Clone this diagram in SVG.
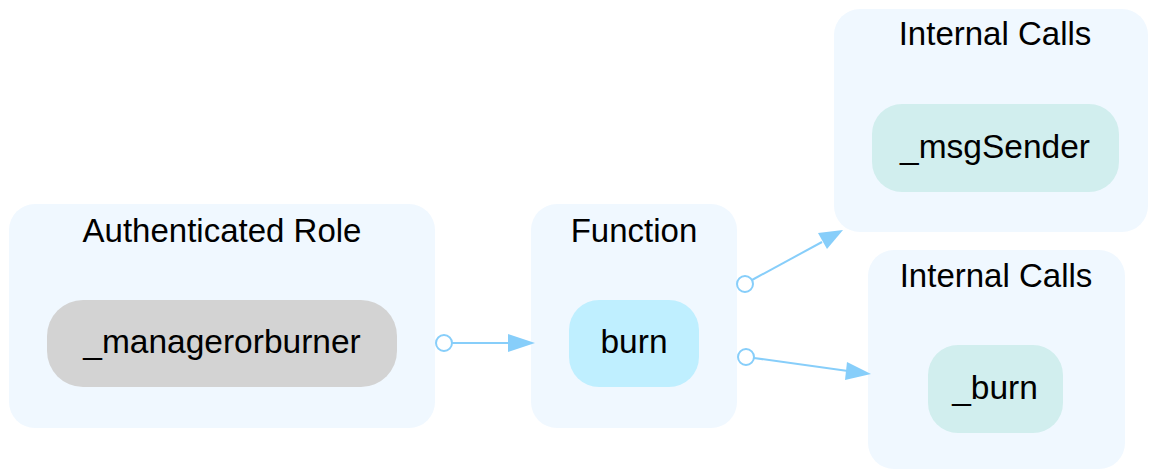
<svg xmlns="http://www.w3.org/2000/svg" width="1149" height="470" viewBox="0 0 1149 470">
  <defs>
    <style>
      .cluster { fill: #f0f8ff; stroke: none; }
      .label { font-family: "Liberation Sans", Arial, sans-serif; font-size: 33px; fill: #000; text-anchor: middle; }
      .ntext { font-family: "Liberation Sans", Arial, sans-serif; font-size: 33.5px; fill: #000; text-anchor: middle; }
      .edge { stroke: #87cefa; stroke-width: 2; fill: none; }
      .tail { stroke: #87cefa; stroke-width: 2; fill: #ffffff; }
      .head { fill: #87cefa; stroke: none; }
    </style>
  </defs>
  <rect width="1149" height="470" fill="#ffffff"/>

  <!-- role cluster -->
  <g id="cluster_role">
    <rect class="cluster" x="9" y="204" width="426" height="224" rx="26"/>
    <text class="label" x="222" y="242">Authenticated Role</text>
  </g>
  <g id="node_managerorburner">
    <rect x="47" y="300" width="350" height="87" rx="36" fill="#d3d3d3"/>
    <text class="ntext" x="222" y="353">_managerorburner</text>
  </g>

  <!-- function cluster -->
  <g id="cluster_function">
    <rect class="cluster" x="531" y="204" width="206" height="224" rx="26"/>
    <text class="label" x="634" y="242">Function</text>
  </g>
  <g id="node_burn">
    <rect x="569" y="300" width="130" height="87" rx="30" fill="#bfefff"/>
    <text class="ntext" x="634" y="353">burn</text>
  </g>

  <!-- internal calls clusters -->
  <g id="cluster_internal_1">
    <rect class="cluster" x="834" y="9" width="314" height="223" rx="26"/>
    <text class="label" x="995" y="45">Internal Calls</text>
  </g>
  <g id="node_msgSender">
    <rect x="872" y="104" width="247" height="88" rx="30" fill="#d1eeee"/>
    <text class="ntext" x="995" y="158">_msgSender</text>
  </g>

  <g id="cluster_internal_2">
    <rect class="cluster" x="868" y="250" width="257" height="219" rx="26"/>
    <text class="label" x="996" y="287">Internal Calls</text>
  </g>
  <g id="node__burn">
    <rect x="928" y="345" width="135" height="88" rx="30" fill="#d1eeee"/>
    <text class="ntext" x="995" y="399">_burn</text>
  </g>

  <!-- connectors -->
  <g id="edges">
    <line class="edge" x1="452" y1="343" x2="510" y2="343"/>
    <circle class="tail" cx="444" cy="343" r="8"/>
    <polygon class="head" points="535,343 508,334 508,352"/>

    <line class="edge" x1="752" y1="280" x2="822" y2="242"/>
    <circle class="tail" cx="745" cy="284" r="8"/>
    <polygon class="head" points="843,230 818,233 827,249"/>

    <line class="edge" x1="754" y1="358" x2="848" y2="371"/>
    <circle class="tail" cx="746" cy="357" r="8"/>
    <polygon class="head" points="871,374 847,362 845,380"/>
  </g>
</svg>
